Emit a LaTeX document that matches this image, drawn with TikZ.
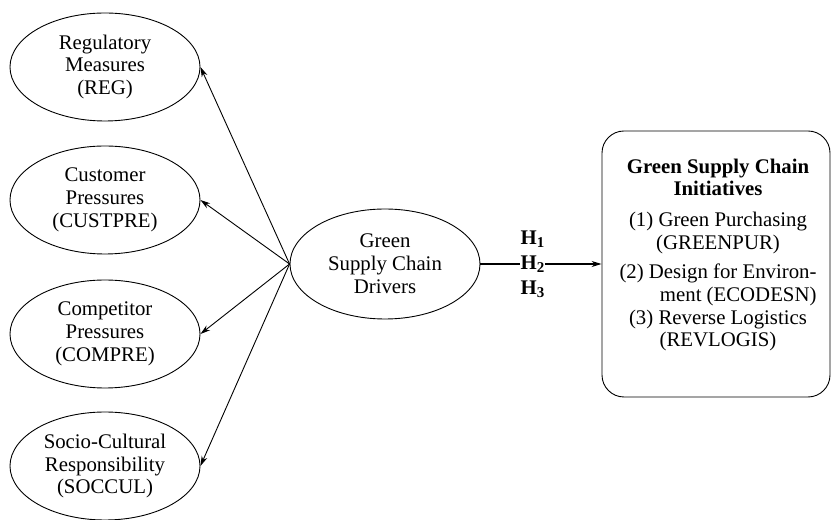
\documentclass[tikz,border=0pt]{standalone}
\usepackage{fontspec}
\setmainfont{Liberation Serif}
\usetikzlibrary{shapes,arrows.meta,positioning}
\tikzset{
driver/.style={
	  draw,ellipse,inner sep=0pt,align=center,
	    minimum width=190pt,minimum height=108pt},
hyp/.style={inner sep=1pt,font=\fontsize{20.8}{22.8}\selectfont\bfseries}
}
\newcommand{\hyplab}[1]{H\raisebox{-0.35ex}{\fontsize{15}{15}\selectfont #1}}

\begin{document}
\begin{tikzpicture}[x=1pt,y=1pt,font=\fontsize{20.8}{22.8}\selectfont,
	line width=0.9pt,>={Stealth[length=10pt,width=6pt]}]
	\useasboundingbox (0,0) rectangle (832,519);
	\node[driver] (reg) at (105,452) {Regulatory\\Measures\\(REG)};
	\node[driver] (cust) at (105,319) {Customer\\Pressures\\(CUSTPRE)};
	\node[driver] (comp) at (105,185) {Competitor\\Pressures\\(COMPRE)};
	\node[driver] (soc) at (105,53) {Socio-Cultural\\Responsibility\\(SOCCUL)};
	\node[driver, minimum height=110pt] (drv) at (385,255) {Green\\Supply Chain\\Drivers};
	\node[draw, rounded corners=22pt, minimum width=228pt, minimum height=266pt] (init) at (716,255) {};
	\node[align=center, inner sep=0pt] (initext) at (718,264) {%
		\textbf{Green Supply Chain}\\\textbf{Initiatives}\\[8pt]
		(1) Green Purchasing\\(GREENPUR)\\[8pt]
		\begin{tabular}{@{}r@{}}(2) Design for Environ-\\ment (ECODESN)\end{tabular}\\
		(3) Reverse Logistics\\(REVLOGIS)};
	\foreach \t in {reg,cust,comp,soc}
		\draw[->] (drv.west) -- (\t.east);
	\draw[->, line width=1.4pt] (drv.east) -- node[hyp, fill=white, pos=0.43] (h2) {\hyplab{2}} (init.west);
	\node[hyp] (h1) at ([yshift=25pt]h2) {\hyplab{1}};
	\node[hyp] (h3) at ([yshift=-25pt]h2) {\hyplab{3}};
\end{tikzpicture}
\end{document}
